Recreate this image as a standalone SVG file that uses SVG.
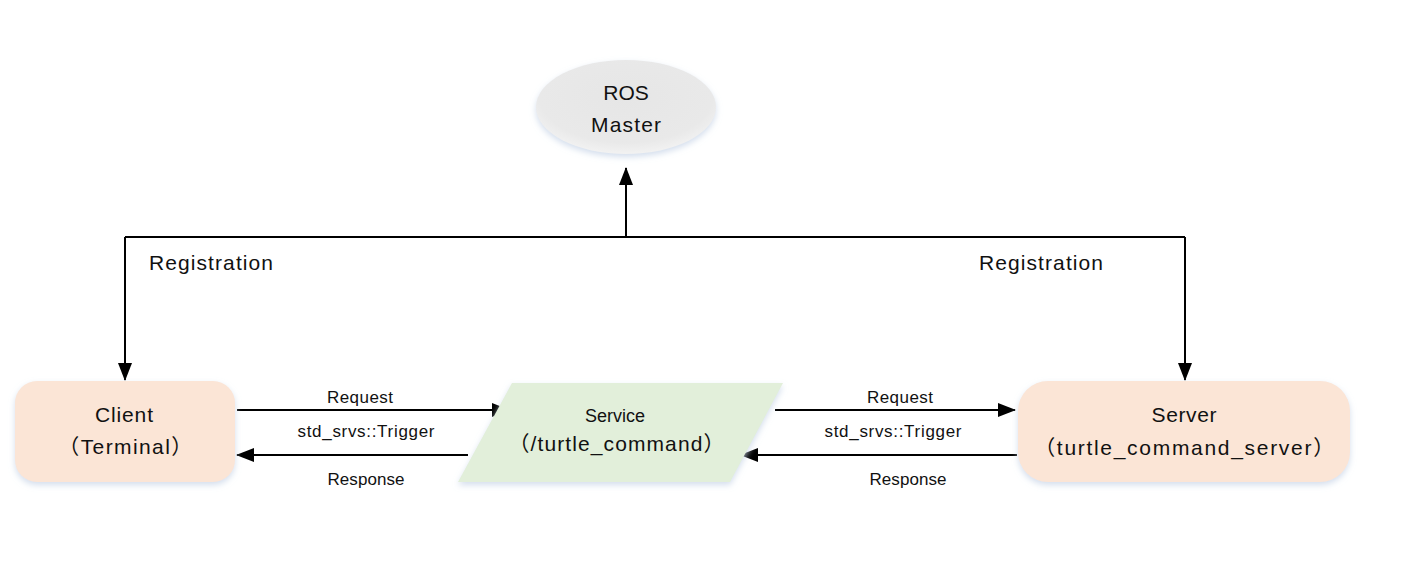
<svg xmlns="http://www.w3.org/2000/svg" width="1410" height="568" viewBox="0 0 1410 568">
<defs>
<marker id="ahL" markerWidth="18" markerHeight="14" refX="17" refY="7" orient="auto" markerUnits="userSpaceOnUse" viewBox="0 0 18 14">
<path d="M0,0 L18,7 L0,14 Z" fill="#000"/>
</marker>
<radialGradient id="gEll" cx="50%" cy="40%" r="60%">
<stop offset="0" stop-color="#e6e6e6"/>
<stop offset="0.8" stop-color="#e9e9e9"/>
<stop offset="1" stop-color="#f2f2f2"/>
</radialGradient>
<filter id="sh" x="-10%" y="-10%" width="120%" height="130%">
<feGaussianBlur in="SourceAlpha" stdDeviation="3"/>
<feOffset dx="0" dy="3" result="b"/>
<feFlood flood-color="#c9d6e8" flood-opacity="0.8"/>
<feComposite in2="b" operator="in"/>
<feMerge><feMergeNode/><feMergeNode in="SourceGraphic"/></feMerge>
</filter>
</defs>
<style>
text{font-family:"Liberation Sans","Noto Sans CJK SC",sans-serif;fill:#111;text-anchor:middle}
.n{font-size:21px}
.l{font-size:17px}
.r{font-size:21px}
.c{stroke:#000;stroke-width:2;fill:none}
</style>
<rect width="1410" height="568" fill="#fff"/>
<g id="connectors">
<polyline class="c" points="125,237 1185,237"/>
<line class="c" x1="626" y1="237" x2="626" y2="168" marker-end="url(#ahL)"/>
<line class="c" x1="125" y1="237" x2="125" y2="380" marker-end="url(#ahL)"/>
<line class="c" x1="1185" y1="237" x2="1185" y2="380" marker-end="url(#ahL)"/>
<line class="c" x1="237" y1="410" x2="509" y2="410" marker-end="url(#ahL)"/>
<line class="c" x1="468" y1="455" x2="237" y2="455" marker-end="url(#ahL)"/>
<line class="c" x1="775" y1="410" x2="1015" y2="410" marker-end="url(#ahL)"/>
<line class="c" x1="1017" y1="455" x2="741" y2="455" marker-end="url(#ahL)"/>
<text class="r" x="211" y="270" textLength="124">Registration</text>
<text class="r" x="1041" y="270" textLength="124">Registration</text>
<text class="l" x="360" y="403" textLength="66">Request</text>
<text class="l" x="366" y="437" textLength="137">std_srvs::Trigger</text>
<text class="l" x="366" y="485" textLength="77">Response</text>
<text class="l" x="900" y="403" textLength="66">Request</text>
<text class="l" x="893" y="437" textLength="137">std_srvs::Trigger</text>
<text class="l" x="908" y="485" textLength="77">Response</text>
</g>
<g id="ros_master">
<ellipse cx="626" cy="107" rx="90" ry="47" fill="url(#gEll)" filter="url(#sh)"/>
<text class="n" x="626" y="100">ROS</text>
<text class="n" x="626" y="132" textLength="70">Master</text>
</g>
<g id="client">
<rect x="15" y="381" width="220" height="101" rx="22" fill="#fbe5d6" filter="url(#sh)"/>
<text class="n" x="124" y="422" textLength="58">Client</text>
<text class="n" x="126" y="454" style="letter-spacing:1.4px">（Terminal）</text>
</g>
<g id="service">
<polygon points="512,383 783,383 730,482 458,482" fill="#e2efda" filter="url(#sh)"/>
<text class="n" x="615" y="422" style="font-size:18px">Service</text>
<text class="n" x="617" y="451" style="letter-spacing:1.1px">（/turtle_command）</text>
</g>
<g id="server">
<rect x="1018" y="381" width="332" height="101" rx="30" fill="#fbe5d6" filter="url(#sh)"/>
<text class="n" x="1184" y="422" textLength="65">Server</text>
<text class="n" x="1185" y="455" style="letter-spacing:1.7px">（turtle_command_server）</text>
</g>
</svg>
